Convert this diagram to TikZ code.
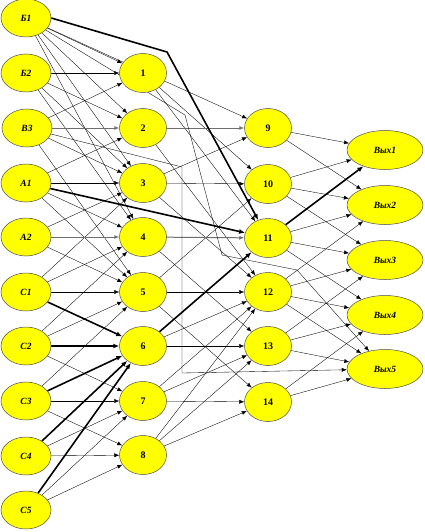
\documentclass[tikz,border=0pt]{standalone}
\usepackage{fontspec}
\setmainfont{Liberation Serif}
\usetikzlibrary{arrows.meta,shapes.geometric}
\definecolor{nodeyellow}{RGB}{255,255,0}
\definecolor{edgegray}{RGB}{110,110,110}
\pgfdeclarelayer{edgelayer}
\pgfsetlayers{edgelayer,main}
\begin{document}
\begin{tikzpicture}[x=1pt,y=-1pt,
  base/.style={ellipse,fill=nodeyellow,draw=black!70,line width=0.5pt,inner sep=0pt,font=\fontsize{9.5}{9.5}\selectfont\bfseries\itshape},
  inp/.style={base,minimum width=50pt,minimum height=38pt},
  hid/.style={base,minimum width=47pt,minimum height=39pt,font=\fontsize{10}{10}\selectfont\bfseries},
  outp/.style={base,minimum width=76pt,minimum height=39pt},
  con/.style={-{Latex[length=5pt,width=4pt]},line width=0.35pt,black},
  thk/.style={-{Latex[length=6pt,width=5pt]},line width=1.6pt,black},
  gry/.style={-{Latex[length=5pt,width=4pt]},line width=1pt,edgegray}]
\useasboundingbox (0,0) rectangle (424,532);
\coordinate (k1) at (167,52);
\coordinate (k2) at (182,167);
\coordinate (k3) at (182,373);
\coordinate (k4) at (185,115);
\coordinate (k5) at (222,255);
\coordinate (k6) at (297,270);
\node[inp] (b1) at (26,18) {Б1};
\node[inp] (b2) at (26,73) {Б2};
\node[inp] (v3) at (27,128) {В3};
\node[inp] (a1) at (26,183) {А1};
\node[inp] (a2) at (26,237) {А2};
\node[inp] (c1) at (26,292) {С1};
\node[inp] (c2) at (26,346) {С2};
\node[inp] (c3) at (26,401) {С3};
\node[inp] (c4) at (26,456) {С4};
\node[inp] (c5) at (26,510) {С5};
\node[hid] (m1) at (143,73) {1};
\node[hid] (m2) at (143,128) {2};
\node[hid] (m3) at (143,183) {3};
\node[hid] (m4) at (143,237) {4};
\node[hid] (m5) at (143,292) {5};
\node[hid] (m6) at (143,346) {6};
\node[hid] (m7) at (143,401) {7};
\node[hid] (m8) at (143,455) {8};
\node[hid] (m9) at (268,128) {9};
\node[hid] (m10) at (268,184) {10};
\node[hid] (m11) at (268,238) {11};
\node[hid] (m12) at (268,292) {12};
\node[hid] (m13) at (268,346) {13};
\node[hid] (m14) at (268,402) {14};
\node[outp] (o1) at (385,150) {Вых1};
\node[outp] (o2) at (385,205) {Вых2};
\node[outp] (o3) at (385,260) {Вых3};
\node[outp] (o4) at (385,315) {Вых4};
\node[outp] (o5) at (385,369) {Вых5};
\begin{pgfonlayer}{edgelayer}
\fill[white] (0,0) rectangle (424,532);
% left -> middle
\foreach \a/\b in {b1/m1,b1/m2,b1/m3,b1/m4,b1/m9,
  b2/m1,b2/m2,b2/m3,b2/m4,
  v3/m1,v3/m3,v3/m5,
  a1/m2,a1/m3,a1/m4,a1/m5,
  a2/m3,a2/m5,
  c1/m3,c1/m4,c1/m5,
  c2/m4,c2/m5,c2/m7,
  c3/m5,c3/m7,c3/m8,
  c4/m7,c4/m8,
  c5/m7,c5/m8}
  \draw[con] (\a) -- (\b);
% middle -> third
\foreach \a/\b in {m1/m10,m1/m11,
  m2/m12,
  m3/m9,m3/m10,m3/m12,
  m4/m13,
  m5/m10,m5/m12,m5/m14,
  m6/m12,m6/m13,
  m7/m12,m7/m13,m7/m14,
  m8/m12,m8/m13,m8/m14}
  \draw[con] (\a) -- (\b);
% third -> output
\foreach \a/\b in {m9/o1,m9/o2,
  m10/o1,m10/o2,m10/o3,
  m11/o2,m11/o3,m11/o4,
  m12/o2,m12/o3,m12/o4,m12/o5,
  m13/o3,m13/o4,m13/o5,
  m14/o4,m14/o5}
  \draw[con] (\a) -- (\b);
% gray
\draw[gry] (v3) -- (m2);
\draw[gry] (m2) -- (m9);
\draw[gry] (a2) -- (m4);
\draw[gry] (m4) -- (m11);
% thick
\draw[thk] (b1.east) -- (k1) -- (m11);
\draw[thk] (a1) -- (m11);
\draw[thk] (c1) -- (m6);
\draw[thk] (c2) -- (m6);
\draw[thk] (c3) -- (m6);
\draw[thk] (c4) -- (m6);
\draw[thk] (c5) -- (m6);
\draw[thk] (m6) -- (m11);
\draw[thk] (m11) -- (o1);
% long paths
\draw[con] (v3) -- (k2) -- (k3) -- (o5);
\draw[con] (b1) -- (k4) -- (k5) -- (k6) -- (o5);
\end{pgfonlayer}
\end{tikzpicture}
\end{document}
